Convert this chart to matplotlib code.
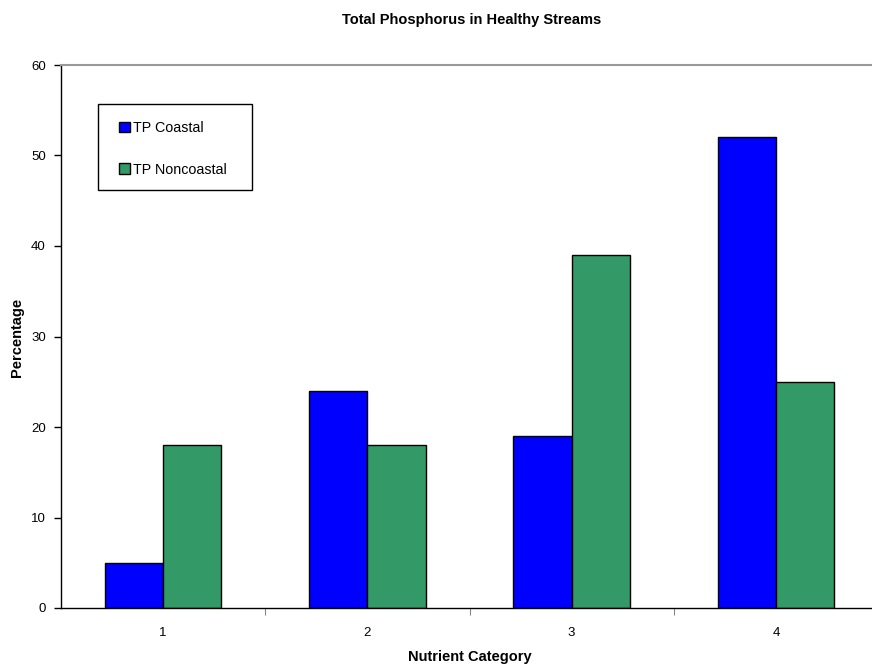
import matplotlib
matplotlib.use("Agg")
import matplotlib.pyplot as plt
from matplotlib.patches import Rectangle
import numpy as np

categories = ["1", "2", "3", "4"]
tp_coastal = [5, 24, 19, 52]
tp_noncoastal = [18, 18, 39, 25]
series_names = ["TP Coastal", "TP Noncoastal"]
colors = ["#0000FF", "#339966"]

plt.rcParams['font.family'] = ['Liberation Sans', 'DejaVu Sans']

W, H = 872, 667
fig = plt.figure(figsize=(W / 100, H / 100), dpi=100)
ax = fig.add_axes([61 / W, (H - 608) / H, 817 / W, (608 - 65) / H])

x = np.arange(1, len(categories) + 1)
bw = 0.285
ax.bar(x - bw / 2, tp_coastal, bw, color=colors[0], edgecolor='black', linewidth=1, label=series_names[0])
ax.bar(x + bw / 2, tp_noncoastal, bw, color=colors[1], edgecolor='black', linewidth=1, label=series_names[1])

ax.set_xlim(0.5, len(categories) + 0.5)
ax.set_ylim(0, 60)
ax.set_yticks(np.arange(0, 61, 10))
ax.tick_params(axis='y', direction='out', length=5, labelsize=9.5, width=1, pad=6)

ax.set_xticks(np.arange(1.5, len(categories), 1.0))
ax.set_xticklabels([])
ax.tick_params(axis='x', which='major', direction='out', length=5, color='#888888')
ax.set_xticks(x, minor=True)
ax.set_xticklabels(categories, minor=True)
ax.tick_params(axis='x', which='minor', length=0, labelsize=9.5, pad=14)

ax.spines['right'].set_visible(False)
ax.spines['top'].set_color('#999999')
ax.spines['top'].set_linewidth(1.5)
ax.spines['left'].set_linewidth(1)
ax.spines['bottom'].set_linewidth(1)

fig.text(472 / W, 1 - 20 / H, "Total Phosphorus in Healthy Streams", ha='center', va='center',
         fontsize=10.5, fontweight='bold')
fig.text(17 / W, 1 - 337 / H, "Percentage", ha='center', va='center', rotation=90,
         fontsize=10.5, fontweight='bold')
fig.text(470 / W, 1 - 657 / H, "Nutrient Category", ha='center', va='center',
         fontsize=10.5, fontweight='bold')

# legend box
box = Rectangle((98 / W, 1 - 190 / H), (252 - 98) / W, (190 - 104) / H,
                transform=fig.transFigure, facecolor='white', edgecolor='black',
                linewidth=1, zorder=5, clip_on=False)
ax.add_patch(box)
leg = ax.legend(loc='upper left', bbox_to_anchor=(119 / W, 1 - 121 / H), bbox_transform=fig.transFigure,
                fontsize=10.3, frameon=False,
                handlelength=0.77, handleheight=0.77, handletextpad=0.2,
                labelspacing=1.94, borderpad=0, borderaxespad=0)
leg.set_zorder(10)

fig.savefig("out.png", dpi=100)
